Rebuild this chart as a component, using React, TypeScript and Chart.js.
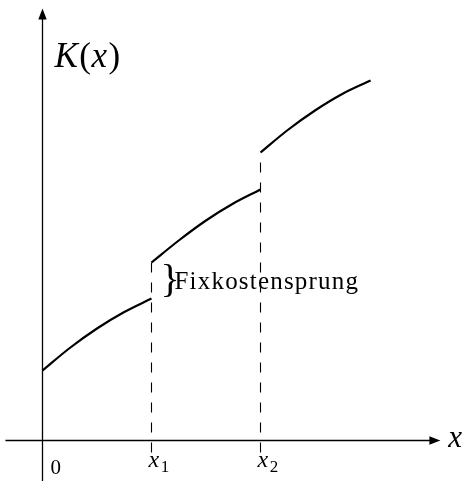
import React, { useEffect, useRef } from "react";
import { Chart, registerables } from "chart.js";

Chart.register(...registerables);

// Segments of the cost function K(x) (x in units of x1, y in cost units)
const seg1X = [0, 0.25, 0.5, 0.75, 1];
const seg1Y = [0.7, 0.925, 1.12, 1.285, 1.42];
const seg2X = [1, 1.25, 1.5, 1.75, 2];
const seg2Y = [1.78, 2.0, 2.2, 2.37, 2.51];
const seg3X = [2, 2.25, 2.5, 2.75, 3.01];
const seg3Y = [2.88, 3.105, 3.3, 3.465, 3.6];

// Dashed guide lines at the jump points
const jumpX = [1, 2];
const jumpTopY = [1.78, 2.88];
const dashBottomY = -0.12;

// Axis extents
const xAxisRange = [-0.34, 3.65];
const yAxisRange = [-0.42, 4.32];

const tickLabels = ["0", "x1", "x2"];
const tickValues = [0, 1, 2];
const yAxisTitle = "K(x)";
const xAxisTitle = "x";
const jumpLabel = "Fixkostensprung";

const toPts = (xs: number[], ys: number[]) => xs.map((x, i) => ({ x, y: ys[i] }));

const SERIF = "'Times New Roman', Times, 'DejaVu Serif', serif";

const overlay = {
  id: "overlay",
  afterDatasetsDraw(chart: any) {
    const ctx = chart.ctx as CanvasRenderingContext2D;
    const xs = chart.scales.x;
    const ys = chart.scales.y;
    const px = (v: number) => xs.getPixelForValue(v);
    const py = (v: number) => ys.getPixelForValue(v);
    ctx.save();
    ctx.fillStyle = "#000";
    // arrow heads
    const ax = px(xAxisRange[1]);
    const ay = py(0);
    ctx.beginPath();
    ctx.moveTo(ax, ay);
    ctx.lineTo(ax - 11, ay - 4.2);
    ctx.lineTo(ax - 11, ay + 4.2);
    ctx.closePath();
    ctx.fill();
    const bx = px(0);
    const by = py(yAxisRange[1]);
    ctx.beginPath();
    ctx.moveTo(bx, by);
    ctx.lineTo(bx - 4.2, by + 11);
    ctx.lineTo(bx + 4.2, by + 11);
    ctx.closePath();
    ctx.fill();

    ctx.textBaseline = "alphabetic";
    ctx.textAlign = "left";

    // y axis title K(x): italic letters, upright parentheses
    let cx = px(0) + 12;
    const base = py(yAxisRange[1]) + 58;
    const parts: [string, boolean][] = [
      [yAxisTitle[0], true],
      [yAxisTitle[1], false],
      [yAxisTitle[2], true],
      [yAxisTitle[3], false],
    ];
    for (const [t, it] of parts) {
      ctx.font = `${it ? "italic " : ""}35px ${SERIF}`;
      ctx.fillText(t, cx, base);
      cx += ctx.measureText(t).width + (it ? 1.5 : 0.5);
    }

    // x axis title
    ctx.font = `italic 31px ${SERIF}`;
    ctx.fillText(xAxisTitle, ax + 8, ay + 6);

    // tick labels
    const labelBase = py(0) + 26;
    tickValues.forEach((v, i) => {
      const lab = tickLabels[i];
      const lx = px(v) + (i === 0 ? 8 : -3);
      if (lab.length === 1) {
        ctx.font = `21px ${SERIF}`;
        ctx.fillText(lab, lx, py(0) + 33);
      } else {
        ctx.font = `italic 24px ${SERIF}`;
        ctx.fillText(lab[0], lx, labelBase);
        const w = ctx.measureText(lab[0]).width;
        ctx.font = `17px ${SERIF}`;
        ctx.fillText(lab.slice(1), lx + w + 1.5, labelBase + 5);
      }
    });

    // brace and jump label
    const jx = px(jumpX[0]);
    const topY = py(jumpTopY[0]);
    const botY = py(seg1Y[seg1Y.length - 1]);
    const midY = (topY + botY) / 2;
    ctx.font = `40px ${SERIF}`;
    ctx.textBaseline = "middle";
    ctx.fillText("}", jx + 9, midY + 1);
    ctx.textBaseline = "alphabetic";
    ctx.font = `25px ${SERIF}`;
    (ctx as any).letterSpacing = "1.2px";
    ctx.fillText(jumpLabel, jx + 23, midY + 8);
    (ctx as any).letterSpacing = "0px";
    ctx.restore();
  },
};

export default function App() {
  const ref = useRef<HTMLCanvasElement | null>(null);
  useEffect(() => {
    if (!ref.current) return;
    const black = "#000";
    const curve = (xs: number[], ys: number[]) => ({
      data: toPts(xs, ys),
      borderColor: black,
      borderWidth: 2.2,
      pointRadius: 0,
      cubicInterpolationMode: "monotone" as const,
      fill: false,
    });
    const dashed = jumpX.map((x, i) => ({
      data: [
        { x, y: dashBottomY },
        { x, y: jumpTopY[i] },
      ],
      borderColor: black,
      borderWidth: 1.1,
      borderDash: [10, 10],
      pointRadius: 0,
      fill: false,
    }));
    const chart = new Chart(ref.current, {
      type: "line",
      data: {
        datasets: [
          {
            data: [
              { x: xAxisRange[0], y: 0 },
              { x: xAxisRange[1] - 0.05, y: 0 },
            ],
            borderColor: black,
            borderWidth: 1.3,
            pointRadius: 0,
          },
          {
            data: [
              { x: 0, y: yAxisRange[0] },
              { x: 0, y: yAxisRange[1] - 0.05 },
            ],
            borderColor: black,
            borderWidth: 1.3,
            pointRadius: 0,
          },
          ...dashed,
          curve(seg1X, seg1Y),
          curve(seg2X, seg2Y),
          curve(seg3X, seg3Y),
        ] as any,
      },
      options: {
        animation: false,
        responsive: false,
        clip: false as any,
        layout: { padding: 0 },
        plugins: { legend: { display: false }, tooltip: { enabled: false } },
        events: [],
        scales: {
          x: { type: "linear", display: false, min: -42.5 / 109, max: (465 - 42.5) / 109 },
          y: { type: "linear", display: false, min: -0.405, max: 4.405 },
        },
      },
      plugins: [overlay],
    });
    return () => chart.destroy();
  }, []);
  return (
    <div style={{ position: "absolute", left: 0, top: 0, width: 465, height: 481, background: "#fff" }}>
      <canvas ref={ref} width={465} height={481} style={{ display: "block" }} />
    </div>
  );
}
